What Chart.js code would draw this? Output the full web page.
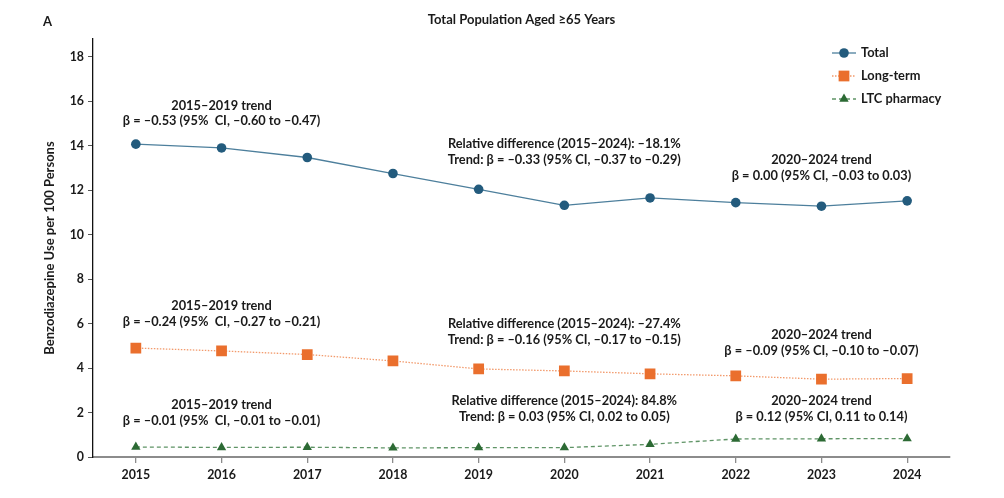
<!DOCTYPE html>
<html>
<head>
<meta charset="utf-8">
<script src="https://cdn.jsdelivr.net/npm/chart.js@4.4.1/dist/chart.umd.min.js"></script>
<style>
  html, body { margin: 0; padding: 0; background: #fff; }
  #wrap { width: 1004px; height: 498px; }
</style>
</head>
<body>
<div id="wrap"><canvas id="popChart"></canvas></div>
<script>
const years = ['2015', '2016', '2017', '2018', '2019', '2020', '2021', '2022', '2023', '2024'];
const total = [14.07, 13.90, 13.47, 12.75, 12.04, 11.32, 11.65, 11.44, 11.28, 11.52];
const longTerm = [4.90, 4.77, 4.61, 4.32, 3.96, 3.87, 3.74, 3.65, 3.50, 3.53];
const ltcPharmacy = [0.45, 0.43, 0.44, 0.41, 0.42, 0.42, 0.57, 0.81, 0.82, 0.83];
const yTicks = [0, 2, 4, 6, 8, 10, 12, 14, 16, 18];

const chartTitle = 'Total Population Aged \u226565 Years';
const panelLabel = 'A';
const yTitle = 'Benzodiazepine Use per 100 Persons';

// trend notes: x = category index, y = value where the first line sits
const notes = [
  { x: 1, y: 15.81, lines: ['2015\u20132019 trend', '\u03b2 = \u20130.53 (95%  CI, \u20130.60 to \u20130.47)'] },
  { x: 5, y: 14.09, lines: ['Relative difference (2015\u20132024): \u201318.1%', 'Trend: \u03b2 = \u20130.33 (95% CI, \u20130.37 to \u20130.29)'] },
  { x: 8, y: 13.35, lines: ['2020\u20132024 trend', '\u03b2 = 0.00 (95% CI, \u20130.03 to 0.03)'] },
  { x: 1, y: 6.80, lines: ['2015\u20132019 trend', '\u03b2 = \u20130.24 (95%  CI, \u20130.27 to \u20130.21)'] },
  { x: 5, y: 5.98, lines: ['Relative difference (2015\u20132024): \u201327.4%', 'Trend: \u03b2 = \u20130.16 (95% CI, \u20130.17 to \u20130.15)'] },
  { x: 8, y: 5.50, lines: ['2020\u20132024 trend', '\u03b2 = \u20130.09 (95% CI, \u20130.10 to \u20130.07)'] },
  { x: 1, y: 2.33, lines: ['2015\u20132019 trend', '\u03b2 = \u20130.01 (95%  CI, \u20130.01 to \u20130.01)'] },
  { x: 5, y: 2.52, lines: ['Relative difference (2015\u20132024): 84.8%', 'Trend: \u03b2 = 0.03 (95% CI, 0.02 to 0.05)'] },
  { x: 8, y: 2.52, lines: ['2020\u20132024 trend', '\u03b2 = 0.12 (95% CI, 0.11 to 0.14)'] }
];

const FONT = 'Lato';
const TEXT = '#1a1a1a';

// title + panel letter + notes + legend with line samples
const extras = {
  id: 'extras',
  afterDatasetsDraw(chart) {
    const { ctx, chartArea, scales: { x, y } } = chart;
    ctx.save();
    ctx.fillStyle = TEXT;
    ctx.textBaseline = 'middle';

    ctx.font = 'bold 13px ' + FONT;
    ctx.textAlign = 'left';
    ctx.fillText(panelLabel, 43, 22);
    ctx.textAlign = 'center';
    ctx.fillText(chartTitle, (chartArea.left + chartArea.right) / 2, 20);

    ctx.font = 'bold 12.8px ' + FONT;
    notes.forEach(n => {
      const px = x.getPixelForValue(n.x);
      const py = y.getPixelForValue(n.y);
      n.lines.forEach((t, i) => ctx.fillText(t, px, py + i * 15.7));
    });

    // legend
    const lx = chartArea.right - 118;
    let ly = chartArea.top + 14;
    chart.data.datasets.forEach(ds => {
      ctx.save();
      ctx.strokeStyle = ds.borderColor;
      ctx.lineWidth = ds.borderWidth;
      ctx.setLineDash(ds.borderDash || []);
      ctx.beginPath();
      ctx.moveTo(lx, ly);
      ctx.lineTo(lx + 24, ly);
      ctx.stroke();
      ctx.restore();
      ctx.fillStyle = ds.pointBackgroundColor;
      ctx.strokeStyle = ds.pointBorderColor;
      Chart.helpers.drawPoint(ctx, { pointStyle: ds.pointStyle, radius: ds.pointRadius, borderWidth: 0, rotation: 0 }, lx + 12, ly);
      ctx.fillStyle = TEXT;
      ctx.textAlign = 'left';
      ctx.font = 'bold 12.8px ' + FONT;
      ctx.fillText(ds.label, lx + 29, ly);
      ly += 23;
    });
    ctx.restore();
  }
};

new Chart(document.getElementById('popChart'), {
  type: 'line',
  data: {
    labels: years,
    datasets: [
      {
        label: 'Total',
        data: total,
        borderColor: '#4d7f9c',
        borderWidth: 1.3,
        pointStyle: 'circle',
        pointRadius: 4.8,
        pointBackgroundColor: '#235b7d',
        pointBorderColor: '#235b7d',
        pointBorderWidth: 0,
        tension: 0
      },
      {
        label: 'Long-term',
        data: longTerm,
        borderColor: '#f29a6c',
        borderWidth: 1.3,
        borderDash: [1.5, 1.5],
        pointStyle: 'rect',
        pointRadius: 7.6,
        pointBackgroundColor: '#ea6f2d',
        pointBorderColor: '#ea6f2d',
        pointBorderWidth: 0,
        tension: 0
      },
      {
        label: 'LTC pharmacy',
        data: ltcPharmacy,
        borderColor: '#5f9466',
        borderWidth: 1.3,
        borderDash: [4, 3],
        pointStyle: 'triangle',
        pointRadius: 5.4,
        pointBackgroundColor: '#2c6a34',
        pointBorderColor: '#2c6a34',
        pointBorderWidth: 0,
        tension: 0
      }
    ]
  },
  options: {
    responsive: true,
    maintainAspectRatio: false,
    animation: false,
    devicePixelRatio: 1,
    layout: { padding: { left: 40, right: 54, top: 39, bottom: 0 } },
    plugins: {
      legend: { display: false },
      title: { display: false },
      tooltip: { enabled: false }
    },
    scales: {
      x: {
        type: 'category',
        offset: true,
        afterFit(scale) { scale.height = 41; },
        grid: { drawOnChartArea: false, drawTicks: true, tickLength: 6, color: '#8c8c8c', lineWidth: 1.3 },
        border: { color: '#8c8c8c', width: 2 },
        ticks: { color: TEXT, padding: 5, font: { family: FONT, size: 12.4, weight: 'bold' } }
      },
      y: {
        min: 0,
        max: 18.8,
        afterFit(scale) { scale.width = 53; },
        afterBuildTicks(scale) { scale.ticks = yTicks.map(v => ({ value: v })); },
        grid: { drawOnChartArea: false, drawTicks: true, tickLength: 5, color: '#555', lineWidth: 1 },
        border: { color: '#111', width: 1.3 },
        ticks: { color: TEXT, padding: 4, font: { family: FONT, size: 12.4, weight: 'bold' } },
        title: {
          display: true,
          text: yTitle,
          color: TEXT,
          padding: { top: 2, bottom: 0 },
          font: { family: FONT, size: 13, weight: 'bold' }
        }
      }
    }
  },
  plugins: [extras]
});
</script>
</body>
</html>
